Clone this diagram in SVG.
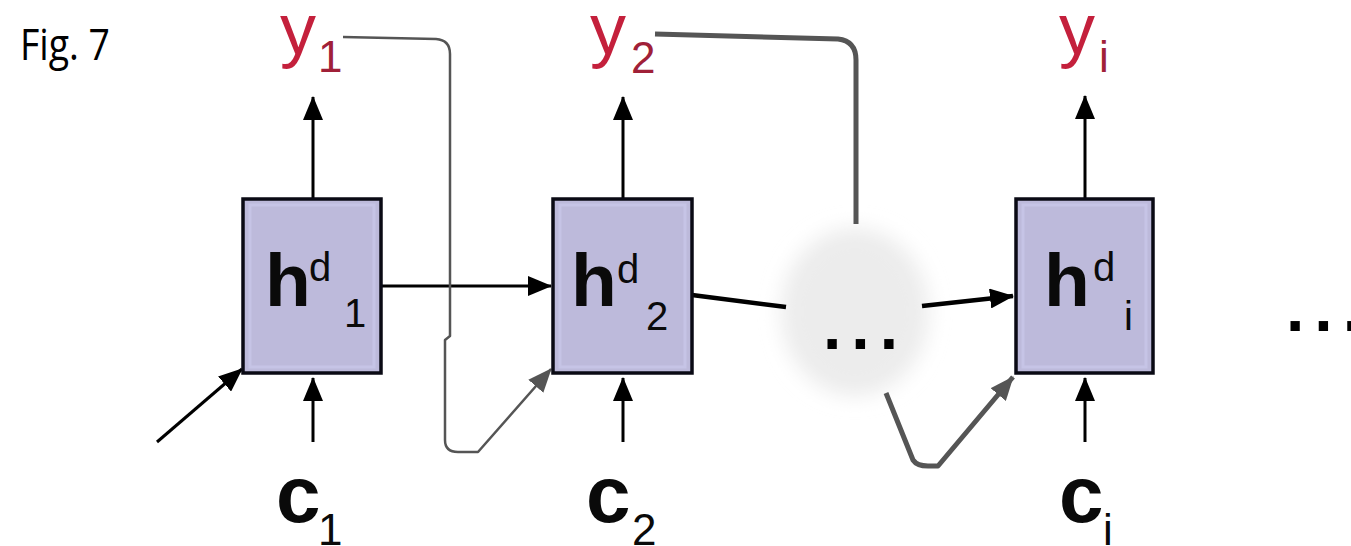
<svg xmlns="http://www.w3.org/2000/svg" width="1351" height="546" viewBox="0 0 1351 546">
<style>
.box{fill:#bdbadb;stroke:#0a0a14;stroke-width:3.5}
.inner{fill:none;stroke:#c6c4e6;stroke-width:3}
.h{font-family:"Liberation Sans",Arial,sans-serif;font-weight:bold;font-size:75px;fill:#0a0a0a}
.sup{font-family:"Liberation Sans",Arial,sans-serif;font-size:40px;fill:#0a0a0a}
.y{font-family:"Liberation Sans",Arial,sans-serif;font-size:72px;fill:#c4203c}
.ysub{font-family:"Liberation Sans",Arial,sans-serif;font-size:44px;fill:#a02038}
.c{font-family:"Liberation Sans",Arial,sans-serif;font-weight:bold;font-size:80px;fill:#0a0a0a}
.csub{font-family:"Liberation Sans",Arial,sans-serif;font-size:44px;fill:#0a0a0a}
.blk{fill:none;stroke:#000;stroke-width:3}
.thick{fill:none;stroke:#000;stroke-width:4.5}
.gray{fill:none;stroke:#555;stroke-width:2.5;stroke-linejoin:round}
.grayT{fill:none;stroke:#555;stroke-width:5;stroke-linejoin:round}
.dots{font-family:"Liberation Sans",Arial,sans-serif;font-weight:bold;font-size:66px;fill:#000}
</style>
<defs>
<marker id="ah" markerUnits="userSpaceOnUse" markerWidth="24" markerHeight="20" refX="23" refY="10" orient="auto">
<path d="M0,0 L24,10 L0,20 z" fill="#000"/>
</marker>
<marker id="ahg" markerUnits="userSpaceOnUse" markerWidth="24" markerHeight="20" refX="23" refY="10" orient="auto">
<path d="M0,0 L24,10 L0,20 z" fill="#555"/>
</marker>
<filter id="blur" x="-50%" y="-50%" width="200%" height="200%">
<feGaussianBlur stdDeviation="10"/>
</filter>
</defs>
<rect width="1351" height="546" fill="#fff"/>
<text x="20" y="60" font-family="'Open Sans',Lato,sans-serif" font-size="43" textLength="90" lengthAdjust="spacingAndGlyphs" fill="#000">Fig. 7</text>

<g id="cloud">
<ellipse cx="855" cy="312" rx="74" ry="84" fill="#ececec" filter="url(#blur)"/>
<text class="dots" x="823" y="349" letter-spacing="10">...</text>
</g>

<g id="connectors">
<path class="blk" d="M313,199 L313,97" marker-end="url(#ah)"/>
<path class="blk" d="M623,199 L623,97" marker-end="url(#ah)"/>
<path class="blk" d="M1085,199 L1085,96" marker-end="url(#ah)"/>
<path class="blk" d="M313,442 L313,378" marker-end="url(#ah)"/>
<path class="blk" d="M623,442 L623,378" marker-end="url(#ah)"/>
<path class="blk" d="M1085,442 L1085,378" marker-end="url(#ah)"/>
<path class="blk" d="M381,286 L551,286" marker-end="url(#ah)"/>
<path class="blk" d="M157,442 L242,369" stroke-width="2.5" marker-end="url(#ah)"/>
<path class="thick" d="M692,295 L786,307"/>
<path class="thick" d="M922,306 L1013,296" marker-end="url(#ah)"/>
<path class="gray" d="M343,37 L436,39 Q450,40 450,54 L450,336 L445,340 L445,440 Q445,452 458,452 L478,452 L551,369" marker-end="url(#ahg)"/>
<path class="grayT" d="M655,34 L838,39 Q856,41 856,60 L856,224"/>
<path class="grayT" d="M886,393 L913,460 Q917,466 928,466 L938,466 L1013,377" marker-end="url(#ahg)"/>
</g>

<g id="h1">
<rect class="box" x="243" y="199" width="138" height="174"/>
<rect class="inner" x="250" y="205" width="124" height="162"/>
<text class="h" x="265" y="306">h</text>
<text class="sup" x="309" y="281">d</text>
<text class="sup" x="344" y="327">1</text>
</g>
<g id="h2">
<rect class="box" x="553" y="199" width="139" height="174"/>
<rect class="inner" x="560" y="205" width="125" height="162"/>
<text class="h" x="571" y="306">h</text>
<text class="sup" x="617" y="283">d</text>
<text class="sup" x="646" y="330">2</text>
</g>
<g id="hi">
<rect class="box" x="1016" y="199" width="137" height="174"/>
<rect class="inner" x="1023" y="205" width="123" height="162"/>
<text class="h" x="1044" y="306">h</text>
<text class="sup" x="1093" y="281">d</text>
<text class="sup" x="1124" y="330">i</text>
</g>

<g id="y1"><text class="y" x="280" y="54">y</text><text class="ysub" x="318" y="72">1</text></g>
<g id="y2"><text class="y" x="590" y="54">y</text><text class="ysub" x="631" y="73">2</text></g>
<g id="yi"><text class="y" x="1059" y="54">y</text><text class="ysub" x="1099" y="72">i</text></g>

<g id="c1"><text class="c" x="276" y="522">c</text><text class="csub" x="318" y="545">1</text></g>
<g id="c2"><text class="c" x="586" y="522">c</text><text class="csub" x="632" y="545">2</text></g>
<g id="ci"><text class="c" x="1059" y="522">c</text><text class="csub" x="1103" y="545">i</text></g>

<g id="ellipsis">
<text class="dots" x="1286" y="331" letter-spacing="10">...</text>
</g>
</svg>
